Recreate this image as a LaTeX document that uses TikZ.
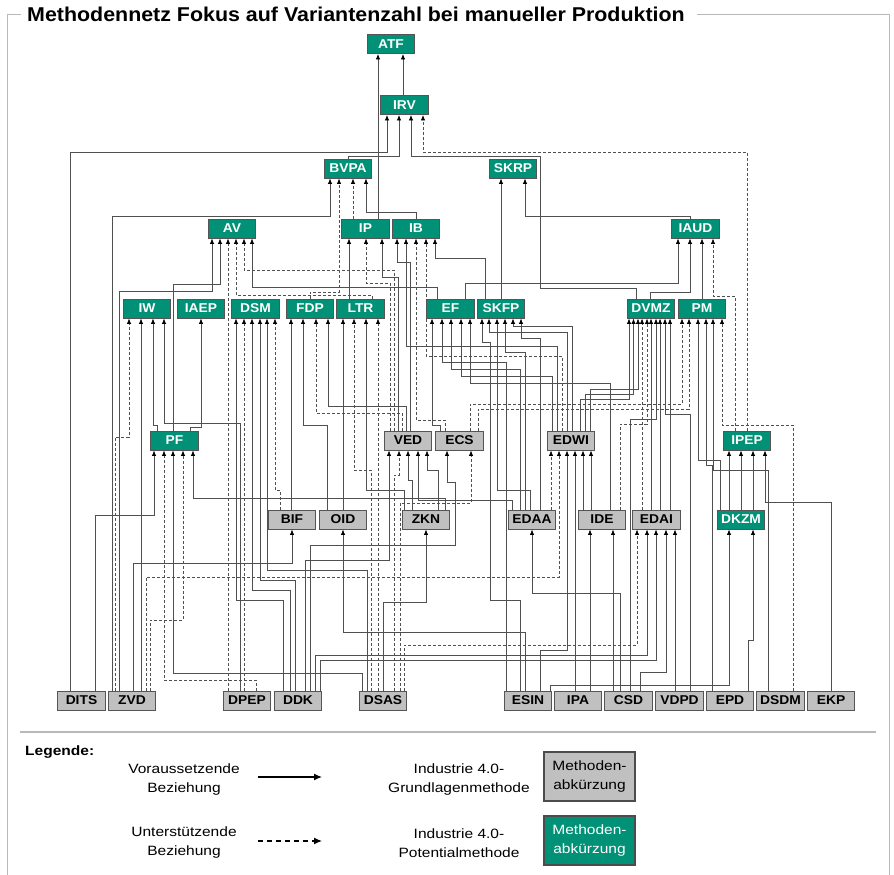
\documentclass[tikz,border=0pt]{standalone}
\usepackage{fontspec}
\setmainfont{Liberation Sans}
\newfontfamily\boxfont[FakeStretch=1.08]{Liberation Sans}
\newfontfamily\titlefont[FakeStretch=1.07]{Liberation Sans}
\newfontfamily\legfont[FakeStretch=1.15]{Liberation Sans}
\usetikzlibrary{arrows.meta}

\definecolor{potgreen}{RGB}{0,145,118}
\definecolor{basegray}{RGB}{192,192,192}
\definecolor{boxline}{RGB}{85,85,85}
\definecolor{wire}{RGB}{80,80,80}
\definecolor{framegray}{RGB}{185,185,185}

\tikzset{
  mbox/.style={draw=boxline, line width=0.9pt, minimum width=47.5pt, minimum height=19pt,
    inner sep=0pt, font=\boxfont\bfseries\fontsize{12.8}{14}\selectfont},
  pot/.style={mbox, fill=potgreen, text=white},
  base/.style={mbox, fill=basegray, text=black},
  rel/.style={draw=wire, line width=0.75pt, -{Latex[length=5.5pt,width=4.4pt,color=black]}},
  sup/.style={rel, dash pattern=on 3pt off 2pt},
  legtext/.style={align=center, inner sep=0pt, font=\legfont\fontsize{13.5}{19}\selectfont},
  legbox/.style={draw=black!70, line width=1.3pt, minimum width=91pt, minimum height=49pt,
    align=center, inner sep=0pt, font=\legfont\fontsize{13.5}{19}\selectfont},
  legarrow/.style={draw=black, line width=1.3pt, -{Latex[length=8pt,width=7pt]}},
}

% connector from the top of a source box to the bottom of a target box
\newcommand\Conn[6][rel]{\draw[#1] (#2.north -| #3,0) |- (#5,#4) -- (#6.south -| #5,0);}
\newcommand\ConnB[8][rel]{\draw[#1] (#2.north -| #3,0) |- (#5,#4) |- (#7,#6) -- (#8.south -| #7,0);}
\newcommand\ConnS[4][rel]{\draw[#1] (#2.north -| #3,0) -- (#4.south -| #3,0);}

\begin{document}
\begin{tikzpicture}[x=1pt,y=-1pt]
\fill[white] (0,0) rectangle (894,875);
\useasboundingbox (0,0) rectangle (894,875);

% frame and title
\draw[framegray, line width=0.8pt] (21,14) -- (7,14) -- (7,875);
\draw[framegray, line width=0.8pt] (697,14) -- (889,14) -- (889,875);
\node[anchor=base west, inner sep=0pt, font=\titlefont\bfseries\fontsize{20}{24}\selectfont]
  (title) at (27,22) {Methodennetz Fokus auf Variantenzahl bei manueller Produktion};

% potential methods
\node[pot] (ATF)  at (391,44) {ATF};
\node[pot] (IRV)  at (404.5,105) {IRV};
\node[pot] (BVPA) at (348,168.5) {BVPA};
\node[pot] (SKRP) at (513,168.5) {SKRP};
\node[pot] (AV)   at (232,228.5) {AV};
\node[pot] (IP)   at (365.5,228.5) {IP};
\node[pot] (IB)   at (416,228.5) {IB};
\node[pot] (IAUD) at (695.5,228.5) {IAUD};
\node[pot] (IW)   at (147,308.5) {IW};
\node[pot] (IAEP) at (201,308.5) {IAEP};
\node[pot] (DSM)  at (255.5,308.5) {DSM};
\node[pot] (FDP)  at (310,308.5) {FDP};
\node[pot] (LTR)  at (360.5,308.5) {LTR};
\node[pot] (EF)   at (450.5,308.5) {EF};
\node[pot] (SKFP) at (501,308.5) {SKFP};
\node[pot] (DVMZ) at (651,308.5) {DVMZ};
\node[pot] (PM)   at (702,308.5) {PM};
\node[pot] (PF)   at (174.5,440.5) {PF};
\node[pot] (IPEP) at (747,440.5) {IPEP};
\node[pot] (DKZM) at (741,519.5) {DKZM};

% basic methods
\node[base] (VED)  at (408,440.5) {VED};
\node[base] (ECS)  at (459.5,440.5) {ECS};
\node[base] (EDWI) at (571,440.5) {EDWI};
\node[base] (BIF)  at (292,519.5) {BIF};
\node[base] (OID)  at (343,519.5) {OID};
\node[base] (ZKN)  at (426,519.5) {ZKN};
\node[base] (EDAA) at (532,519.5) {EDAA};
\node[base] (IDE)  at (602,519.5) {IDE};
\node[base] (EDAI) at (656.5,519.5) {EDAI};
\node[base] (DITS) at (81.5,700.5) {DITS};
\node[base] (ZVD)  at (132,700.5) {ZVD};
\node[base] (DPEP) at (247,700.5) {DPEP};
\node[base] (DDK)  at (298,700.5) {DDK};
\node[base] (DSAS) at (383,700.5) {DSAS};
\node[base] (ESIN) at (528,700.5) {ESIN};
\node[base] (IPA)  at (578,700.5) {IPA};
\node[base] (CSD)  at (628.5,700.5) {CSD};
\node[base] (VDPD) at (679.5,700.5) {VDPD};
\node[base] (EPD)  at (730,700.5) {EPD};
\node[base] (DSDM) at (780.5,700.5) {DSDM};
\node[base] (EKP)  at (831,700.5) {EKP};

% ---- relations into ATF, IRV, BVPA, SKRP
\ConnS{IP}{378}{ATF}
\ConnS{IRV}{403}{ATF}
\Conn{DITS}{70}{152}{387}{IRV}
\Conn{BVPA}{348}{156}{399}{IRV}
\ConnB{DVMZ}{636}{288}{540}{156}{411}{IRV}
\Conn[sup]{IPEP}{747}{152}{423}{IRV}
\Conn{ZVD}{112}{216}{330}{BVPA}
\Conn[sup]{FDP}{310}{292}{339}{BVPA}
\ConnS[sup]{IP}{353}{BVPA}
\Conn{IB}{416}{212}{366}{BVPA}
\ConnS{SKFP}{501}{SKRP}
\Conn{IAUD}{690}{216}{525}{SKRP}

% ---- AV, IP, IB, IAUD
\Conn{ZVD}{119}{291}{212}{AV}
\Conn{PF}{173}{284}{220}{AV}
\ConnS[sup]{DPEP}{228}{AV}
\Conn[sup]{LTR}{372}{295}{236}{AV}
\Conn[sup]{VED}{394}{270}{244}{AV}
\Conn{EF}{437}{287}{252}{AV}
\ConnS{LTR}{349}{IP}
\Conn[sup]{VED}{390}{283}{366}{IP}
\Conn{VED}{398}{277}{382}{IP}
\Conn{VED}{410}{262}{397}{IB}
\Conn{EDWI}{557}{346}{406}{IB}
\Conn[sup]{ECS}{445}{420}{416}{IB}
\Conn[sup]{EDWI}{562}{356}{426}{IB}
\Conn{SKFP}{485}{258}{435}{IB}
\Conn{EF}{465}{283}{678}{IAUD}
\Conn{DVMZ}{650}{292}{690}{IAUD}
\ConnS{PM}{702}{IAUD}
\Conn[sup]{IPEP}{735}{296}{713}{IAUD}

% ---- IW, IAEP, DSM, FDP, LTR
\Conn[sup]{ZVD}{115}{437}{129}{IW}
\ConnS{ZVD}{141}{IW}
\Conn{PF}{157}{425}{153}{IW}
\Conn{DPEP}{240}{423}{164}{IW}
\Conn{PF}{190}{427}{201}{IAEP}
\Conn{DDK}{283}{600}{236}{DSM}
\ConnS[sup]{DPEP}{244}{DSM}
\Conn{DDK}{290}{590}{252}{DSM}
\Conn{DDK}{295}{580}{260}{DSM}
\Conn{DSAS}{367}{570}{267}{DSM}
\Conn[sup]{BIF}{280}{490}{275}{DSM}
\ConnS{BIF}{291}{FDP}
\Conn{OID}{327}{425}{303}{FDP}
\Conn[sup]{VED}{402}{413}{316}{FDP}
\Conn{VED}{406}{406}{328}{FDP}
\ConnS{OID}{343}{LTR}
\Conn[sup]{DSAS}{371}{470}{354}{LTR}
\Conn{ZKN}{404}{490}{366}{LTR}
\ConnS[sup]{DSAS}{378}{LTR}

% ---- EF, SKFP
\Conn{ECS}{440}{425}{432}{EF}
\Conn{ESIN}{506}{362}{442}{EF}
\Conn{EDAA}{520}{369}{451}{EF}
\Conn{EDWI}{552}{376}{461}{EF}
\Conn{IDE}{610}{383}{470}{EF}
\ConnB{ESIN}{520}{600}{490}{342}{482}{SKFP}
\Conn{EDWI}{567}{332}{489}{SKFP}
\Conn{EDAA}{530}{490}{497}{SKFP}
\Conn{EDAA}{525}{352}{505}{SKFP}
\Conn{EDWI}{572}{326}{513}{SKFP}
\Conn{EDAA}{540}{338}{521}{SKFP}

% ---- DVMZ, PM
\Conn{EDWI}{580}{399}{629}{DVMZ}
\Conn{EDWI}{585}{394}{633.5}{DVMZ}
\Conn{EDWI}{590}{389}{638}{DVMZ}
\ConnS[sup]{EDAI}{642}{DVMZ}
\Conn[sup]{IDE}{620}{424}{647}{DVMZ}
\ConnS{EDAI}{651}{DVMZ}
\Conn{CSD}{630}{419}{656}{DVMZ}
\ConnS{EDAI}{660}{DVMZ}
\Conn{VDPD}{690}{414}{665}{DVMZ}
\ConnS{EDAI}{670}{DVMZ}
\Conn[sup]{ECS}{470}{404}{682}{PM}
\Conn[sup]{ECS}{478}{409}{689}{PM}
\Conn{DKZM}{720}{460}{698}{PM}
\Conn{EPD}{712}{465}{706}{PM}
\Conn{DSDM}{768}{470}{713}{PM}
\Conn[sup]{DSDM}{793}{425}{722}{PM}

% ---- PF, VED, ECS, EDWI, IPEP
\Conn{DITS}{95}{515}{154}{PF}
\Conn[sup]{DPEP}{256}{680}{164}{PF}
\Conn{DSAS}{362}{673}{173}{PF}
\Conn[sup]{ZVD}{150}{620}{183}{PF}
\Conn{ZKN}{445}{498}{193}{PF}
\Conn{DDK}{305}{560}{389}{VED}
\Conn[sup]{DSAS}{394}{475}{399}{VED}
\Conn{ZKN}{412}{480}{408}{VED}
\Conn{EDAA}{512}{500}{418}{VED}
\Conn{ZKN}{438}{470}{427}{VED}
\ConnB{DDK}{310}{545}{455}{482}{447}{ECS}
\Conn[sup]{DSAS}{400}{503}{471}{ECS}
\ConnS[sup]{EDAA}{551}{EDWI}
\Conn[sup]{ZVD}{146}{577}{559}{EDWI}
\Conn{ESIN}{540}{650}{567}{EDWI}
\ConnS{IPA}{575}{EDWI}
\ConnS{IDE}{583}{EDWI}
\ConnS{IDE}{591}{EDWI}
\ConnS{DKZM}{729}{IPEP}
\ConnS{DKZM}{741}{IPEP}
\ConnS{DKZM}{753}{IPEP}
\Conn{EKP}{831}{502}{765}{IPEP}

% ---- BIF, OID, ZKN, EDAA, IDE, EDAI, DKZM
\Conn{ZVD}{133}{563}{292}{BIF}
\Conn{ESIN}{525}{632}{343}{OID}
\Conn{DSAS}{383}{602}{426}{ZKN}
\Conn{CSD}{620}{593}{532}{EDAA}
\ConnS{IPA}{590}{IDE}
\ConnS{CSD}{613}{IDE}
\Conn[sup]{DSAS}{404}{645}{637}{EDAI}
\Conn{DDK}{315}{655}{647}{EDAI}
\Conn{DDK}{320}{660}{656}{EDAI}
\Conn{CSD}{640}{672}{666}{EDAI}
\ConnS{VDPD}{675}{EDAI}
\Conn{ESIN}{550}{685}{729}{DKZM}
\Conn{EPD}{748}{640}{753}{DKZM}

% ---- legend
\draw[framegray, line width=1.2pt] (20,732) -- (876,732);
\node[anchor=west, inner sep=0pt, font=\legfont\bfseries\fontsize{13.5}{16}\selectfont]
  (legende) at (25,752) {Legende:};
\node[legtext] (vor) at (184,779.5) {Voraussetzende\\Beziehung};
\node[legtext] (unt) at (184,842) {Unterstützende\\Beziehung};
\coordinate (ra) at (258,777);
\coordinate (rb) at (322,777);
\draw[legarrow] (ra) -- (rb);
\coordinate (sa) at (258,841);
\coordinate (sb) at (322,841);
\draw[legarrow, dash pattern=on 5pt off 4pt] (sa) -- (sb);
\node[legtext] (grund) at (459,780) {Industrie 4.0-\\Grundlagenmethode};
\node[legtext] (potm) at (459,843) {Industrie 4.0-\\Potentialmethode};
\node[legbox, fill=basegray, text=black] (lgbase) at (589.5,776.5) {Methoden-\\abkürzung};
\node[legbox, fill=potgreen, text=white] (lgpot) at (589.5,840.5) {Methoden-\\abkürzung};
\end{tikzpicture}
\end{document}
